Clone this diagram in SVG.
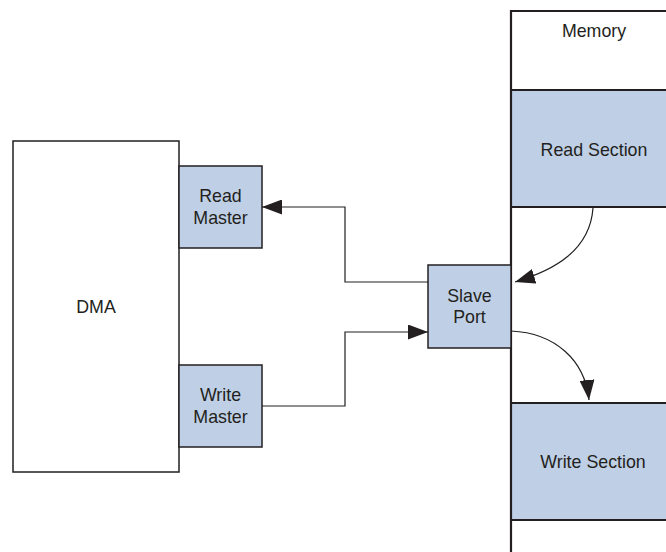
<svg xmlns="http://www.w3.org/2000/svg" width="666" height="552" viewBox="0 0 666 552">
<defs>
<marker id="ah" markerUnits="userSpaceOnUse" markerWidth="20" markerHeight="15" refX="20" refY="7.5" orient="auto" viewBox="0 0 20 15">
<path d="M0,0 L20,7.5 L0,15 z" fill="#231f20"/>
</marker>
</defs>
<style>
.box{fill:#ffffff;stroke:#231f20;stroke-width:1.5}
.blue{fill:#bfd0e6;stroke:#231f20;stroke-width:1.5}
.mem{stroke:#231f20;stroke-width:2.2;fill:none}
.t{font-family:"Liberation Sans",Arial,sans-serif;font-size:17.8px;fill:#231f20;text-anchor:middle}
.c{fill:none;stroke:#231f20;stroke-width:1.2}
</style>
<rect width="666" height="552" fill="#ffffff"/>
<g id="memory">
<rect x="511" y="90" width="160" height="117" fill="#bfd0e6"/>
<rect x="511" y="403" width="160" height="117" fill="#bfd0e6"/>
<path class="mem" d="M511,560 V11 H670 M511,90 H670 M511,207 H670 M511,403 H670 M511,520 H670"/>
<text class="t" x="594" y="37">Memory</text>
</g>
<g id="read-section"><text class="t" x="594" y="156">Read Section</text></g>
<g id="write-section"><text class="t" x="593" y="468">Write Section</text></g>
<g id="dma">
<rect class="box" x="13" y="141" width="166" height="331"/>
<text class="t" x="96" y="313">DMA</text>
</g>
<g id="read-master">
<rect class="blue" x="179" y="166" width="83" height="82"/>
<text class="t" x="220.5" y="202">Read</text>
<text class="t" x="220.5" y="224">Master</text>
</g>
<g id="write-master">
<rect class="blue" x="179" y="365" width="83" height="82"/>
<text class="t" x="220.5" y="401">Write</text>
<text class="t" x="220.5" y="423">Master</text>
</g>
<g id="slave-port">
<rect class="blue" x="428" y="265" width="83" height="83"/>
<text class="t" x="469.5" y="302">Slave</text>
<text class="t" x="469.5" y="323">Port</text>
</g>
<g id="connectors">
<path class="c" d="M428,282 H345 V207 H262" marker-end="url(#ah)"/>
<path class="c" d="M262,406 H345 V332 H428" marker-end="url(#ah)"/>
<path class="c" d="M593,208 C590,250 555,270 515,282" marker-end="url(#ah)"/>
<path class="c" d="M511,331 C555,333 585,360 589,400" marker-end="url(#ah)"/>
</g>
</svg>
